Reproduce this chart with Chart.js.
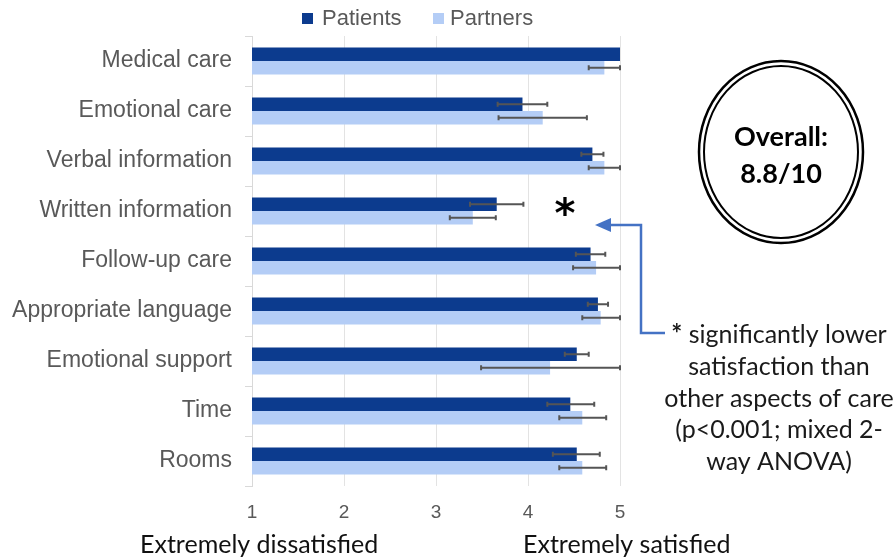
<!DOCTYPE html>
<html>
<head>
<meta charset="utf-8">
<script src="https://cdn.jsdelivr.net/npm/chart.js@4.4.1/dist/chart.umd.min.js"></script>
<style>
html, body { margin: 0; padding: 0; background: #fff; }
#wrap { width: 896px; height: 559px; position: relative; }
</style>
</head>
<body>
<div id="wrap"><canvas id="chart"></canvas></div>
<script>
// data
const categories = ['Medical care', 'Emotional care', 'Verbal information', 'Written information',
    'Follow-up care', 'Appropriate language', 'Emotional support', 'Time', 'Rooms'];
const seriesNames = ['Patients', 'Partners'];

const patients    = [5.00, 3.94, 4.70, 3.66, 4.68, 4.76, 4.53, 4.46, 4.53];
const patientLow  = [null, 3.67, 4.58, 3.37, 4.52, 4.65, 4.40, 4.21, 4.27];
const patientHigh = [null, 4.21, 4.82, 3.95, 4.84, 4.87, 4.66, 4.72, 4.78];

const partners    = [4.83, 4.16, 4.83, 3.40, 4.74, 4.79, 4.24, 4.59, 4.59];
const partnerLow  = [4.66, 3.68, 4.66, 3.15, 4.49, 4.59, 3.49, 4.34, 4.34];
const partnerHigh = [5.00, 4.64, 5.00, 3.65, 5.00, 5.00, 5.00, 4.85, 4.85];

const xTicks = [1, 2, 3, 4, 5];
const scaleEnds = ['Extremely dissatisfied', 'Extremely satisfied'];
const overallText = ['Overall:', '8.8/10'];
const noteLines = ['significantly lower', 'satisfaction than', 'other aspects of care', '(p<0.001; mixed 2-', 'way ANOVA)'];

const darkBlue = '#0c3b8e';
const lightBlue = '#b4cdf6';
const grey = '#595959';

// error bars on top of the bars
const errorBars = {
    id: 'errorBars',
    afterDatasetsDraw(chart) {
        const ctx = chart.ctx;
        const xs = chart.scales.x;
        ctx.save();
        ctx.strokeStyle = '#555';
        ctx.lineWidth = 2;
        [[patientLow, patientHigh], [partnerLow, partnerHigh]].forEach((pair, di) => {
            chart.getDatasetMeta(di).data.forEach((bar, i) => {
                const lo = pair[0][i], hi = pair[1][i];
                if (lo == null) return;
                const x1 = xs.getPixelForValue(lo), x2 = xs.getPixelForValue(hi), y = bar.y;
                ctx.beginPath();
                ctx.moveTo(x1, y); ctx.lineTo(x2, y);
                ctx.moveTo(x1, y - 2.5); ctx.lineTo(x1, y + 2.5);
                ctx.moveTo(x2, y - 2.5); ctx.lineTo(x2, y + 2.5);
                ctx.stroke();
            });
        });
        ctx.restore();
    }
};

// legend, circle, note, arrow and end labels
const extras = {
    id: 'extras',
    afterDraw(chart) {
        const ctx = chart.ctx;
        ctx.save();

        // legend
        ctx.font = '22px "Liberation Sans", Arial, sans-serif';
        ctx.textBaseline = 'middle';
        ctx.fillStyle = darkBlue;
        ctx.fillRect(302, 13, 11, 11);
        ctx.fillStyle = grey;
        ctx.fillText(seriesNames[0], 322, 18.5);
        ctx.fillStyle = lightBlue;
        ctx.fillRect(433, 13, 11, 11);
        ctx.fillStyle = grey;
        ctx.fillText(seriesNames[1], 450, 18.5);

        // asterisk next to written information
        ctx.fillStyle = '#000';
        ctx.font = 'bold 40px "DejaVu Sans", sans-serif';
        ctx.textAlign = 'center';
        ctx.textBaseline = 'alphabetic';
        const m = ctx.measureText('*');
        const midOff = (m.actualBoundingBoxAscent - m.actualBoundingBoxDescent) / 2;
        ctx.fillText('*', 565, 206 + midOff);

        // arrow
        ctx.strokeStyle = '#4472c4';
        ctx.fillStyle = '#4472c4';
        ctx.lineWidth = 2.5;
        ctx.beginPath();
        ctx.moveTo(665, 333);
        ctx.lineTo(641, 333);
        ctx.lineTo(641, 225);
        ctx.lineTo(608, 225);
        ctx.stroke();
        ctx.beginPath();
        ctx.moveTo(595, 225);
        ctx.lineTo(611, 218);
        ctx.lineTo(611, 232);
        ctx.closePath();
        ctx.fill();

        // note text
        ctx.fillStyle = '#1a1a1a';
        ctx.textAlign = 'left';
        const noteFont = '25px Lato, sans-serif';
        const base = [343, 375, 407, 438, 470];
        noteLines.forEach((line, i) => {
            if (i === 0) {
                ctx.font = 'bold 26px Lato, sans-serif';
                const w1 = ctx.measureText('* ').width;
                ctx.font = noteFont;
                const w2 = ctx.measureText(line).width;
                const x0 = 779 - (w1 + w2) / 2;
                ctx.font = 'bold 26px Lato, sans-serif';
                ctx.fillText('* ', x0, base[i]);
                ctx.font = noteFont;
                ctx.fillText(line, x0 + w1, base[i]);
            } else {
                ctx.font = noteFont;
                const w = ctx.measureText(line).width;
                ctx.fillText(line, 779 - w / 2, base[i]);
            }
        });

        // overall circle
        ctx.strokeStyle = '#000';
        ctx.lineWidth = 2.5;
        ctx.beginPath();
        ctx.ellipse(781, 152, 82, 91, 0, 0, Math.PI * 2);
        ctx.stroke();
        ctx.lineWidth = 2;
        ctx.beginPath();
        ctx.ellipse(781, 152, 77, 86, 0, 0, Math.PI * 2);
        ctx.stroke();
        ctx.fillStyle = '#000';
        ctx.font = 'bold 27px Lato, sans-serif';
        ctx.textAlign = 'center';
        ctx.fillText(overallText[0], 781, 146);
        ctx.fillText(overallText[1], 781, 183);

        // ends of the scale
        ctx.font = '25px Lato, sans-serif';
        ctx.fillStyle = '#111';
        ctx.textAlign = 'left';
        ctx.fillText(scaleEnds[0], 140, 553);
        ctx.fillText(scaleEnds[1], 523, 553);

        ctx.restore();
    }
};

new Chart(document.getElementById('chart'), {
    type: 'bar',
    data: {
        labels: categories,
        datasets: [
            { label: seriesNames[0], data: patients, backgroundColor: darkBlue },
            { label: seriesNames[1], data: partners, backgroundColor: lightBlue }
        ]
    },
    options: {
        indexAxis: 'y',
        responsive: true,
        maintainAspectRatio: false,
        animation: false,
        datasets: { bar: { categoryPercentage: 0.54, barPercentage: 1 } },
        layout: { padding: { top: 36, right: 276, left: 0, bottom: 0 } },
        plugins: { legend: { display: false }, tooltip: { enabled: false } },
        scales: {
            x: {
                min: 1, max: 5,
                afterBuildTicks: s => { s.ticks = xTicks.map(v => ({ value: v })); },
                afterFit: s => { s.height = 73; },
                ticks: { color: grey, font: { size: 19, family: '"Liberation Sans", Arial' }, padding: 15 },
                grid: { color: '#e3e3e3', drawTicks: false },
                border: { display: false }
            },
            y: {
                afterFit: s => { s.width = 252; },
                ticks: { color: grey, font: { size: 23, family: '"Liberation Sans", Arial' }, padding: 13 },
                grid: { offset: true, drawOnChartArea: false, tickLength: 7, color: '#d9d9d9' },
                border: { color: '#d9d9d9' }
            }
        }
    },
    plugins: [errorBars, extras]
});
</script>
</body>
</html>
